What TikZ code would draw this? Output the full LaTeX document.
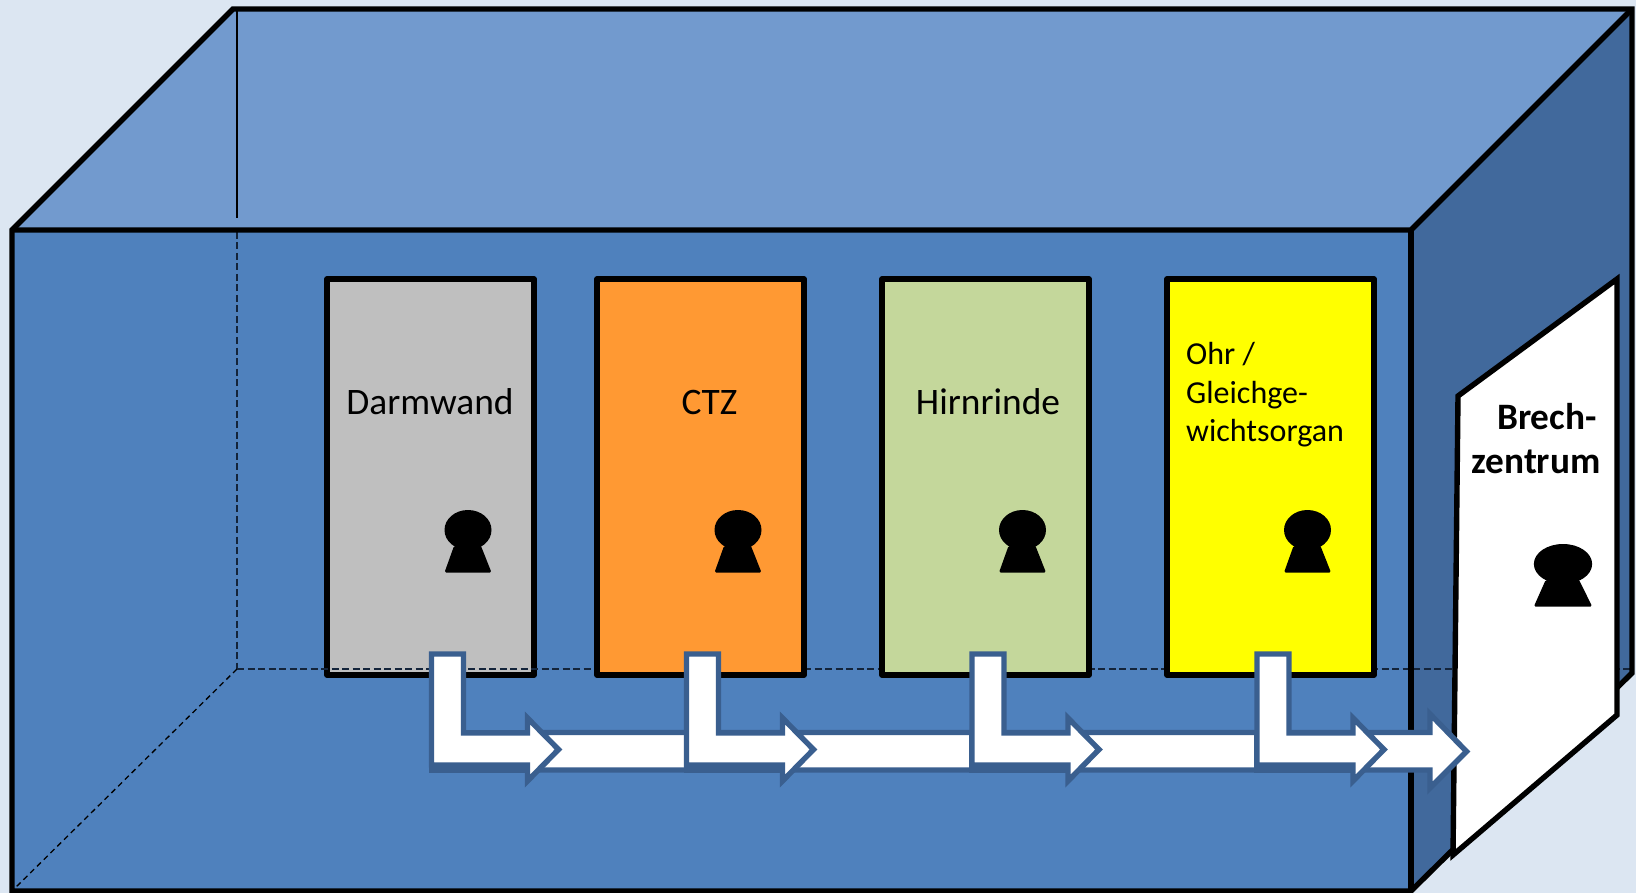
\documentclass[tikz,border=0pt]{standalone}
\usepackage{fontspec}
\setmainfont{Carlito}
\definecolor{bgc}{HTML}{DCE6F2}
\definecolor{frontc}{HTML}{4F81BD}
\definecolor{topc}{HTML}{729ACE}
\definecolor{sidec}{HTML}{41699C}
\definecolor{arrowc}{HTML}{3A5F8F}
\definecolor{grayd}{HTML}{BFBFBF}
\definecolor{orangd}{HTML}{FF9933}
\definecolor{greend}{HTML}{C4D79B}
\definecolor{yellowd}{HTML}{FFFF00}
\definecolor{dashc}{HTML}{14243A}
\tikzset{
 edgeline/.style={draw=black,line width=5.4pt,line join=miter},
 doorbox/.style={draw=black,line width=5.4pt,line join=round,inner sep=0pt,minimum height=396pt},
 hidden/.style={draw=dashc,line width=1.4pt,dash pattern=on 7pt off 3.5pt},
 flow/.style={fill=white,draw=arrowc,line width=5.4pt,line join=miter},
 lab/.style={font=\fontsize{37.4}{37.4}\selectfont,text=black,inner sep=0pt},
 labsmall/.style={font=\fontsize{32}{32}\selectfont,text=black,inner sep=0pt,anchor=base west},
 labbold/.style={font=\fontsize{37.3}{37.3}\selectfont\bfseries,text=black,inner sep=0pt}
}
\newcommand{\keyhole}[3]{%
 \begin{scope}[shift={(#1,#2)},xscale=#3]
 \fill[black,rounded corners=1.5pt] (-14,16) -- (13,16) -- (23.5,42.5) -- (-23.5,42.5) -- cycle;
 \fill[black] (0,0) ellipse [x radius=23.5,y radius=20];
 \end{scope}}
\newcommand{\bentarrow}[1]{%
 \begin{scope}[shift={(#1,0)}]
 \fill[arrowc] (-2.7,730) rectangle (98,772.7);
 \draw[flow] (0,654) -- (32,654) -- (32,733) -- (96,733) -- (96,718) -- (127,749.5) -- (96,781) -- (96,765) -- (0,765) -- cycle;
 \end{scope}}
\begin{document}
\begin{tikzpicture}[x=1pt,y=-1pt]
\useasboundingbox (0,0) rectangle (1636,893);
\fill[bgc] (0,0) rectangle (1636,893);
% faces
\fill[frontc] (12,230) rectangle (1411,891);
\fill[topc] (12,230) -- (233,9) -- (1632,9) -- (1411,230) -- cycle;
\fill[sidec] (1411,230) -- (1632,9) -- (1632,673) -- (1411,891) -- cycle;
% hidden back edges
\draw[black,line width=1.3pt] (237,10) -- (237,218);
\draw[hidden] (237,232) -- (237,669);
\draw[black,line width=1.3pt,dash pattern=on 5.5pt off 4pt] (237,669) -- (12,891);
% first door lies beneath the dashed floor line
\node[doorbox,fill=grayd,minimum width=207pt] (doora) at (430.5,477) {};
\draw[hidden] (237,669) -- (1633,669);
\node[doorbox,fill=orangd,minimum width=207pt] (doorb) at (700.5,477) {};
\node[doorbox,fill=greend,minimum width=207pt] (doorc) at (985.5,477) {};
\node[doorbox,fill=yellowd,minimum width=207pt] (doord) at (1270.5,477) {};
% box outline
\draw[edgeline] (12,891) -- (12,230) -- (233,9) -- (1632,9) -- (1632,673) -- (1411,891) -- cycle;
\draw[edgeline] (12,230) -- (1411,230) -- (1632,9);
\draw[edgeline] (1411,230) -- (1411,891);
% right door
\draw[edgeline,fill=white] (1617,279) -- (1458,396) -- (1453,855) -- (1617,715) -- cycle;
% keyholes
\keyhole{468}{530}{1}
\keyhole{738}{530}{1}
\keyhole{1022.5}{530}{1}
\keyhole{1307.5}{530}{1}
\keyhole{1563}{564}{1.24}
% long arrow
\draw[flow] (540,732.5) -- (1430,732.5) -- (1430,714) -- (1466.5,751.5) -- (1430,788) -- (1430,770) -- (540,770) -- cycle;
\bentarrow{431.5}
\bentarrow{686.5}
\bentarrow{972}
\bentarrow{1257}
% labels
\node[lab] (ta) at (430,402) {Darmwand};
\node[lab] (tb) at (709.5,402) {CTZ};
\node[lab] (tc) at (988,402) {Hirnrinde};
\node[labsmall] (td1) at (1186,364.5) {Ohr /};
\node[labsmall] (td2) at (1186,403) {Gleichge-};
\node[labsmall] (td3) at (1186,441.7) {wichtsorgan};
\node[labbold] (te1) at (1547,417) {Brech-};
\node[labbold] (te2) at (1536,462) {zentrum};
\end{tikzpicture}
\end{document}
